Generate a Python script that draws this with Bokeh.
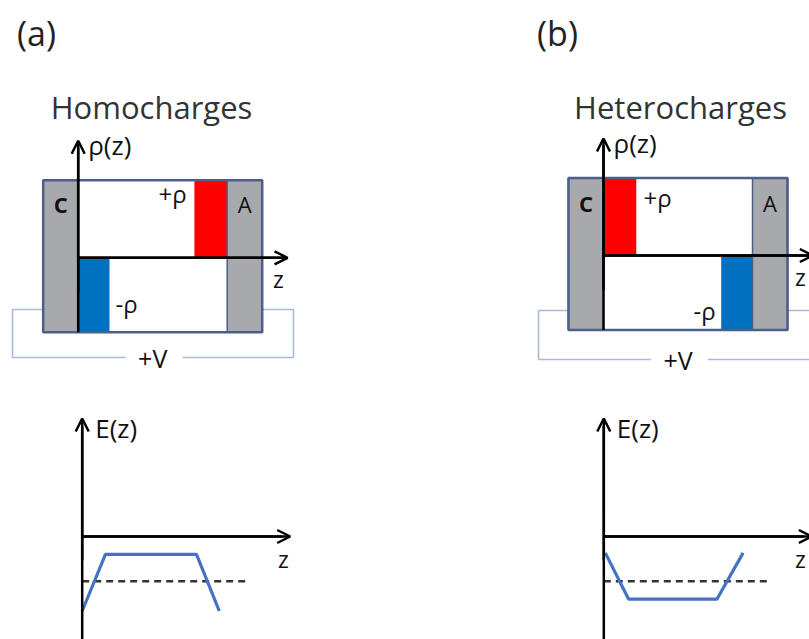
from bokeh.plotting import figure
from bokeh.models import Range1d, Arrow, OpenHead
from bokeh.core.properties import value
from bokeh.embed import file_html
from bokeh.resources import INLINE

# ---------------- data (normalized units: z=0 cathode interface, z=1 anode interface)
panel_tags = ["(a)", "(b)"]
panel_titles = ["Homocharges", "Heterocharges"]

# charge layers: (z_start, z_end, rho)
homo_layers_z0 = [0.78, 0.0]
homo_layers_z1 = [1.0, 0.21]
homo_layers_rho = [0.52, -0.50]
hetero_layers_z0 = [0.0, 0.79]
hetero_layers_z1 = [0.22, 1.0]
hetero_layers_rho = [0.52, -0.50]

# electric field profiles
homo_E_z = [0.0, 0.156, 0.767, 0.92]
homo_E = [-0.50, -0.12, -0.12, -0.50]
hetero_E_z = [0.01, 0.166, 0.76, 0.935]
hetero_E = [-0.11, -0.42, -0.42, -0.11]
E_applied = -0.30
E_applied_z = [0.0, 1.1]

# ---------------- layout helpers (pixel geometry)
S = 149.0
RED = "#FF0000"
BLUE = "#0070C0"
GRAY = "#A8A9AD"
EDGE = "#4A5F8A"
WIRE = "#A9B9D9"
CURVE = "#4472C4"
FONT = value("Open Sans")

W, H = 809, 639
p = figure(width=W, height=H, x_range=Range1d(0, W), y_range=Range1d(H, 0),
           output_backend="svg", toolbar_location=None, x_axis_type=None, y_axis_type=None,
           min_border=0)
p.grid.visible = False
p.outline_line_color = None
p.background_fill_color = "white"
p.border_fill_color = "white"


def txt(x, y, s, size, align="center", color="#111111", style="normal"):
    p.text(x=[x], y=[y], text=[s], text_font=FONT, text_font_size=size,
           text_align=align, text_baseline="middle", text_color=color,
           text_font_style=style)


def arrow(x0, y0, x1, y1):
    p.add_layout(Arrow(x_start=x0, y_start=y0, x_end=x1, y_end=y1, line_width=2.5,
                       line_color="black",
                       end=OpenHead(size=13, line_width=2.5, line_color="black")))


panels = [
    dict(rx=77.7, ry=257.3, ex=81.7, ey=536.0, tagx=36, titlex=151,
         lz0=homo_layers_z0, lz1=homo_layers_z1, lr=homo_layers_rho,
         Ez=homo_E_z, E=homo_E, wire_l=12, wire_r=293, wire_y=309, wire_b=357,
         pr=(172, 193), mr=(126, 303), zr=278, ze=283),
    dict(rx=603.0, ry=255.0, ex=603.3, ey=536.0, tagx=557, titlex=680,
         lz0=hetero_layers_z0, lz1=hetero_layers_z1, lr=hetero_layers_rho,
         Ez=hetero_E_z, E=hetero_E, wire_l=538, wire_r=840, wire_y=310, wire_b=359,
         pr=(657, 197), mr=(704, 310), zr=800, ze=800),
]

for i, pn in enumerate(panels):
    rx, ry, ex, ey = pn["rx"], pn["ry"], pn["ex"], pn["ey"]
    X = lambda z: rx + S * z
    Y = lambda r: ry - S * r
    top, bot = Y(0.52), Y(-0.50)
    elw = 0.235
    # wire circuit (behind the cell)
    midx = (X(-elw) + X(1 + elw)) / 2
    p.line([X(-elw), pn["wire_l"], pn["wire_l"], midx - 27], [pn["wire_y"], pn["wire_y"], pn["wire_b"], pn["wire_b"]],
           line_color=WIRE, line_width=1.6)
    p.line([midx + 30, pn["wire_r"], pn["wire_r"], X(1 + elw)], [pn["wire_b"], pn["wire_b"], pn["wire_y"], pn["wire_y"]],
           line_color=WIRE, line_width=1.6)
    # cell interior
    p.quad(left=[X(-elw)], right=[X(1 + elw)], top=[top], bottom=[bot],
           fill_color="white", line_color=None)
    # charge layers
    cols = [RED if r > 0 else BLUE for r in pn["lr"]]
    p.quad(left=[X(z) for z in pn["lz0"]], right=[X(z) for z in pn["lz1"]],
           top=[Y(max(r, 0)) for r in pn["lr"]], bottom=[Y(min(r, 0)) for r in pn["lr"]],
           fill_color=cols, line_color=None)
    # electrodes
    p.quad(left=[X(-elw), X(1)], right=[X(0), X(1 + elw)], top=[top, top], bottom=[bot, bot],
           fill_color=GRAY, line_color=EDGE, line_width=1.5)
    # outer box
    p.quad(left=[X(-elw)], right=[X(1 + elw)], top=[top], bottom=[bot],
           fill_color=None, line_color=EDGE, line_width=2.5)
    # rho axes
    p.line([rx, rx], [bot, ry - 110], line_color="black", line_width=2.5)
    arrow(rx, bot - 40, rx, ry - 117)
    p.line([rx, X(1.38)], [ry, ry], line_color="black", line_width=2.5)
    arrow(rx, ry, X(1.405), ry)

    # E plot
    EX = lambda z: ex + S * z
    EY = lambda e: ey - S * e
    p.line([EX(z) for z in E_applied_z], [EY(E_applied)] * 2, line_color="#333333",
           line_width=2.5, line_dash="7 5")
    p.line([EX(z) for z in pn["Ez"]], [EY(e) for e in pn["E"]], line_color=CURVE, line_width=3.2)
    p.line([ex, ex], [660, ey - 110], line_color="black", line_width=2.5)
    arrow(ex, 560, ex, ey - 118)
    p.line([ex, ex + 200], [ey, ey], line_color="black", line_width=2.5)
    arrow(ex, ey, ex + 208, ey)

    # texts
    txt(pn["tagx"], 32, panel_tags[i], "34px", color="#222222")
    txt(pn["titlex"], 106, panel_titles[i], "31px", color="#333333")
    txt(rx + 10, ry - 113, "ρ(z)", "26px", align="left")
    txt(X(-elw / 2), 203 + (ry - 257.3) * 0.3, "C", "22px", style="bold")
    txt(X(1 + elw / 2), 203 + (ry - 257.3) * 0.3, "A", "22px")
    txt(pn["pr"][0], pn["pr"][1], "+ρ", "24px")
    txt(pn["mr"][0], pn["mr"][1], "-ρ", "24px")
    txt(pn["zr"], ry + 21, "z", "23px")
    txt(midx, pn["wire_b"], "+V", "25px")
    txt(ex + 13, ey - 109, "E(z)", "26px", align="left")
    txt(pn["ze"], ey + 22, "z", "23px")

open("out.html", "w").write(file_html(p, INLINE))
